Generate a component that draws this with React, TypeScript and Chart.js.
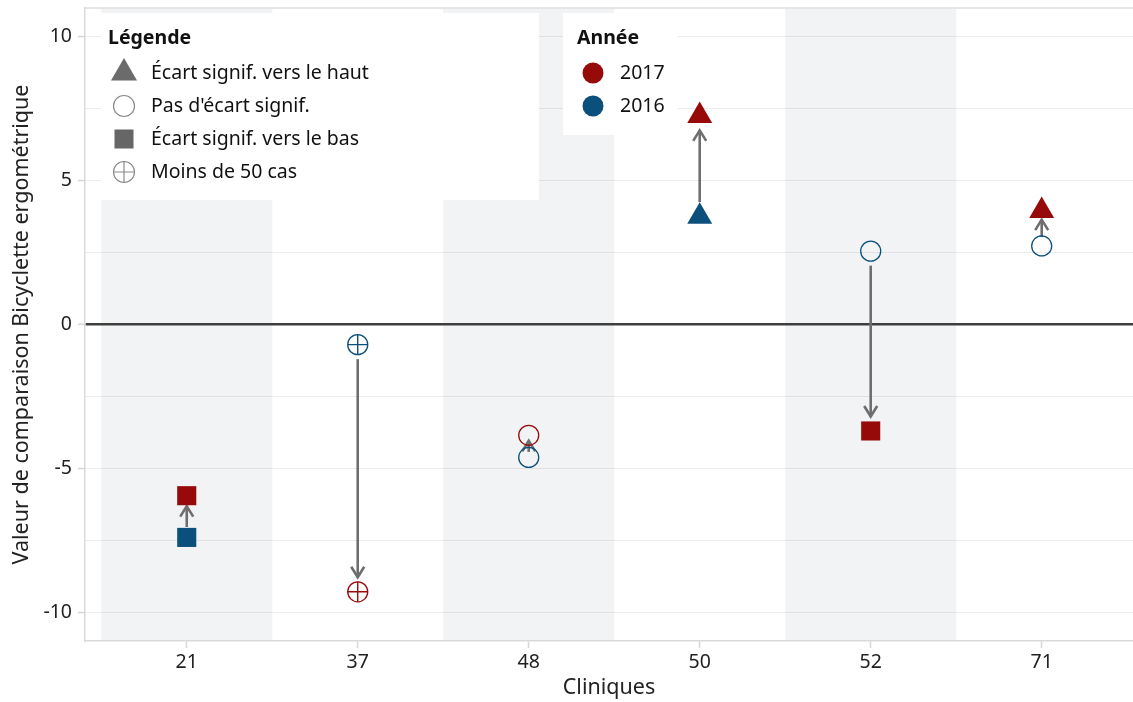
import React, { useEffect, useRef } from 'react';
import { Chart, registerables } from 'chart.js';

Chart.register(...registerables);

const clinics = ['21', '37', '48', '50', '52', '71'];
const values2016 = [-7.4, -0.7, -4.62, 3.75, 2.55, 2.73];
const values2017 = [-5.95, -9.29, -3.85, 7.25, -3.7, 3.95];
const status2016 = ['down', 'few', 'none', 'up', 'none', 'none'];
const status2017 = ['down', 'few', 'none', 'up', 'down', 'up'];
const yTicks = [-10, -7.5, -5, -2.5, 0, 2.5, 5, 7.5, 10];
const shadedClinics = ['21', '48', '52'];

const legendTitle = 'Légende';
const legendLabels = ['Écart signif. vers le haut', "Pas d'écart signif.", 'Écart signif. vers le bas', 'Moins de 50 cas'];
const legendStatuses = ['up', 'none', 'down', 'few'];
const yearTitle = 'Année';
const yearLabels = ['2017', '2016'];

const RED = '#960a0a';
const BLUE = '#0b4f7c';
const yearColors = [RED, BLUE];
const FONT = '"Noto Sans", "Open Sans", sans-serif';
const FS = 19.5;
const TFS = 21.5;

const styleOf = (s: string) => (s === 'up' ? 'triangle' : s === 'down' ? 'rect' : 'circle');
const radiusOf = (s: string) => (s === 'up' ? 14.4 : s === 'down' ? 13.5 : 10);
const filled = (s: string) => s === 'up' || s === 'down';

function yearDataset(label: string, values: number[], statuses: string[], color: string) {
  return {
    label,
    data: values.map((v, i) => ({ x: i, y: v })),
    pointStyle: statuses.map(styleOf),
    pointRadius: statuses.map(radiusOf),
    pointBackgroundColor: statuses.map((s) => (filled(s) ? color : 'rgba(0,0,0,0)')),
    pointBorderColor: color,
    pointBorderWidth: statuses.map((s) => (filled(s) ? 0 : 1.3)),
    showLine: false,
  };
}

function crossDataset(label: string, values: number[], statuses: string[], color: string) {
  return {
    label,
    data: values.map((v, i) => ({ x: i, y: v })).filter((_, i) => statuses[i] === 'few'),
    pointStyle: 'cross',
    pointRadius: 10,
    pointBorderColor: color,
    pointBorderWidth: 1.4,
    showLine: false,
  };
}

function drawIcon(ctx: CanvasRenderingContext2D, status: string, cx: number, cy: number) {
  ctx.save();
  if (status === 'up') {
    const r = 15;
    ctx.fillStyle = '#6b6b6b';
    ctx.beginPath();
    ctx.moveTo(cx, cy - r);
    ctx.lineTo(cx + r * Math.sin((2 * Math.PI) / 3), cy - r * Math.cos((2 * Math.PI) / 3));
    ctx.lineTo(cx - r * Math.sin((2 * Math.PI) / 3), cy - r * Math.cos((2 * Math.PI) / 3));
    ctx.closePath();
    ctx.fill();
  } else if (status === 'down') {
    ctx.fillStyle = '#666666';
    ctx.fillRect(cx - 9.5, cy - 9.5, 19, 19);
  } else {
    ctx.strokeStyle = '#8a8a8a';
    ctx.lineWidth = 1.2;
    ctx.beginPath();
    ctx.arc(cx, cy, 10.5, 0, Math.PI * 2);
    ctx.stroke();
    if (status === 'few') {
      ctx.beginPath();
      ctx.moveTo(cx - 10.5, cy);
      ctx.lineTo(cx + 10.5, cy);
      ctx.moveTo(cx, cy - 10.5);
      ctx.lineTo(cx, cy + 10.5);
      ctx.stroke();
    }
  }
  ctx.restore();
}

const decorPlugin = {
  id: 'decor',
  beforeDraw(chart: any) {
    const { ctx, chartArea, scales } = chart;
    const x = scales.x;
    ctx.save();
    ctx.fillStyle = '#f2f3f5';
    shadedClinics.forEach((c) => {
      const i = clinics.indexOf(c);
      const l = x.getPixelForValue(i - 0.5);
      const r = x.getPixelForValue(i + 0.5);
      ctx.fillRect(l, chartArea.top + 1, r - l, chartArea.bottom - chartArea.top - 1);
    });
    ctx.restore();
  },
  beforeDatasetsDraw(chart: any) {
    const { ctx, scales } = chart;
    const xs = scales.x;
    const ys = scales.y;
    ctx.save();
    // legend boxes
    ctx.fillStyle = '#ffffff';
    ctx.fillRect(101, 13, 438, 187);
    ctx.fillRect(563, 13, 115, 122);

    ctx.fillStyle = '#111111';
    ctx.textBaseline = 'middle';
    ctx.textAlign = 'left';
    ctx.font = `bold ${FS}px ${FONT}`;
    ctx.fillText(legendTitle, 108, 38);
    ctx.fillText(yearTitle, 577, 38);
    ctx.font = `${FS}px ${FONT}`;
    const rows = [73, 106, 139, 172];
    legendLabels.forEach((lab, i) => {
      drawIcon(ctx, legendStatuses[i], 124, rows[i]);
      ctx.fillStyle = '#111111';
      ctx.fillText(lab, 151, rows[i]);
    });
    yearLabels.forEach((lab, i) => {
      ctx.fillStyle = yearColors[i];
      ctx.beginPath();
      ctx.arc(593, rows[i], 10.5, 0, Math.PI * 2);
      ctx.fill();
      ctx.fillStyle = '#111111';
      ctx.fillText(lab, 620, rows[i]);
    });

    // arrows
    ctx.strokeStyle = '#6e6e6e';
    ctx.lineWidth = 2.6;
    ctx.lineJoin = 'miter';
    clinics.forEach((_, i) => {
      const px = xs.getPixelForValue(i);
      const y1 = ys.getPixelForValue(values2016[i]);
      const y2 = ys.getPixelForValue(values2017[i]);
      const dist = Math.abs(y2 - y1);
      const dir = Math.sign(y2 - y1);
      const off = Math.min(14.5, dist * 0.25);
      const sy = y1 + dir * off;
      const ey = y2 - dir * off;
      ctx.beginPath();
      ctx.moveTo(px, sy);
      ctx.lineTo(px, ey);
      ctx.stroke();
      ctx.beginPath();
      ctx.moveTo(px - 6.5, ey - dir * 10.5);
      ctx.lineTo(px, ey);
      ctx.lineTo(px + 6.5, ey - dir * 10.5);
      ctx.stroke();
    });
    ctx.restore();
  },
  afterDraw(chart: any) {
    const { ctx, chartArea } = chart;
    ctx.save();
    ctx.strokeStyle = '#dddddd';
    ctx.lineWidth = 1.5;
    ctx.beginPath();
    ctx.moveTo(chartArea.left, chartArea.top);
    ctx.lineTo(chartArea.right, chartArea.top);
    ctx.stroke();
    ctx.restore();
  },
};

export default function App() {
  const ref = useRef<HTMLCanvasElement | null>(null);

  useEffect(() => {
    if (!ref.current) return;
    const chart = new Chart(ref.current, {
      type: 'scatter',
      data: {
        datasets: [
          yearDataset('2016', values2016, status2016, BLUE),
          crossDataset('2016 few', values2016, status2016, BLUE),
          yearDataset('2017', values2017, status2017, RED),
          crossDataset('2017 few', values2017, status2017, RED),
        ] as any,
      },
      options: {
        animation: false,
        responsive: false,
        events: [],
        layout: { autoPadding: false, padding: { top: 8, left: 0, right: 0, bottom: 0 } },
        plugins: { legend: { display: false }, tooltip: { enabled: false } },
        scales: {
          x: {
            type: 'linear',
            min: -0.595,
            max: 5.534,
            afterBuildTicks: (s: any) => {
              s.ticks = clinics.map((_, i) => ({ value: i }));
            },
            afterFit: (s: any) => {
              s.height = 61;
              s.paddingLeft = 0;
              s.paddingRight = 0;
            },
            ticks: {
              callback: (v: any) => clinics[Math.round(Number(v))] ?? '',
              font: { family: FONT, size: FS },
              color: '#222222',
              padding: 3,
              autoSkip: false,
              maxRotation: 0,
            },
            grid: { drawOnChartArea: false, drawTicks: true, tickLength: 7, tickColor: '#d6d6d6', tickWidth: 1.5 },
            border: { color: '#d9d9d9', width: 1.5 },
            title: {
              display: true,
              text: 'Cliniques',
              font: { family: FONT, size: TFS },
              color: '#222222',
              padding: { top: 0, bottom: 1 },
            },
          },
          y: {
            type: 'linear',
            min: -11,
            max: 11,
            afterBuildTicks: (s: any) => {
              s.ticks = yTicks.map((v) => ({ value: v }));
            },
            afterFit: (s: any) => {
              s.width = 85;
              s.paddingTop = 0;
              s.paddingBottom = 0;
            },
            ticks: {
              callback: (v: any) => (Number(v) % 5 === 0 ? String(v) : ''),
              font: { family: FONT, size: FS },
              color: '#222222',
              padding: 6,
            },
            grid: {
              color: (c: any) => (c.tick && c.tick.value === 0 ? '#3e3e3e' : 'rgba(0,0,0,0.075)'),
              lineWidth: (c: any) => (c.tick && c.tick.value === 0 ? 2.5 : 1),
              tickColor: (c: any) => (c.tick && c.tick.value % 5 === 0 ? '#d6d6d6' : 'rgba(0,0,0,0)'),
              tickLength: 7,
              tickWidth: 1.5,
            },
            border: { color: '#d9d9d9', width: 1.5 },
            title: {
              display: true,
              text: 'Valeur de comparaison Bicyclette ergométrique',
              font: { family: FONT, size: TFS },
              color: '#222222',
              padding: { top: 9, bottom: 0 },
            },
          },
        },
      } as any,
      plugins: [decorPlugin],
    });
    return () => chart.destroy();
  }, []);

  return (
    <div style={{ position: 'absolute', left: 0, top: 0, width: 1133, height: 702, background: '#ffffff' }}>
      <canvas ref={ref} width={1133} height={702} style={{ display: 'block' }} />
    </div>
  );
}
